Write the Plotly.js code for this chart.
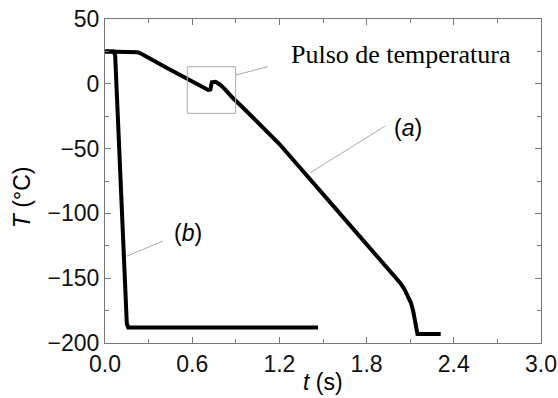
<!DOCTYPE html>
<html>
<head>
<meta charset="utf-8">
<script src="https://cdn.plot.ly/plotly-3.0.1.min.js"></script>
<style>html,body{margin:0;padding:0;background:#fff;}#chart{width:558px;height:398px;}</style>
</head>
<body>
<div id="chart"></div>
<script>
// Curve (a): slow cooling with temperature pulse
const timeA = [0, 0.10, 0.20, 0.225, 0.25, 0.30, 0.42, 0.53, 0.63, 0.71, 0.725, 0.735, 0.76, 0.79, 0.82, 0.88, 0.95, 1.20, 1.53, 1.824, 1.90, 1.96, 2.00, 2.03, 2.06, 2.085, 2.105, 2.12, 2.13, 2.14, 2.15, 2.31];
const tempA = [25, 25, 24.8, 24.3, 23.2, 20.3, 12.5, 6, 0.3, -4.8, -4.5, 1.2, 1.5, -0.5, -3.5, -11, -18.5, -46.5, -89, -126.7, -136, -143.5, -149, -153.5, -158.5, -163.5, -169, -175, -181, -188, -193, -193];
// Curve (b): fast quench
const timeB = [0, 0.06, 0.07, 0.113, 0.15, 0.16, 0.20, 0.60, 1.00, 1.466];
const tempB = [25, 25, 22, -90, -185, -188, -188, -188, -188, -188];
// Axis ticks
const xTicks = [0, 0.6, 1.2, 1.8, 2.4, 3.0];
const xTickText = ["0.0", "0.6", "1.2", "1.8", "2.4", "3.0"];
const yTicks = [-200, -150, -100, -50, 0, 50];

const traces = [
  {x: timeA, y: tempA, mode: 'lines', line: {color: '#000', width: 4}, hoverinfo: 'skip', showlegend: false},
  {x: timeB, y: tempB, mode: 'lines', line: {color: '#000', width: 4}, hoverinfo: 'skip', showlegend: false}
];

const axisCommon = {
  showgrid: false, zeroline: false, showline: true, linecolor: '#777', linewidth: 1,
  mirror: 'ticks', ticks: 'inside', ticklen: 6, tickcolor: '#777', tickwidth: 1,
  tickfont: {family: 'Liberation Sans, Arial, sans-serif', size: 23, color: '#111'}
};

const layout = {
  width: 558, height: 398,
  margin: {l: 105, r: 17, t: 19, b: 55},
  paper_bgcolor: '#fff', plot_bgcolor: '#fff',
  xaxis: Object.assign({}, axisCommon, {
    range: [0, 3], tickmode: 'array', tickvals: xTicks, ticktext: xTickText,
    minor: {dtick: 0.3, ticks: 'inside', ticklen: 4, tickcolor: '#777', showgrid: false}
  }),
  yaxis: Object.assign({}, axisCommon, {
    range: [-200, 50], tickmode: 'array', tickvals: yTicks,
    minor: {dtick: 25, ticks: 'inside', ticklen: 4, tickcolor: '#777', showgrid: false}
  }),
  shapes: [
    {type: 'rect', xref: 'x', yref: 'y', x0: 0.566, x1: 0.899, y0: -22.8, y1: 13.2, line: {color: '#aaa', width: 1}},
    {type: 'line', xref: 'x', yref: 'y', x0: 0.90, y0: 6.8, x1: 1.122, y1: 13.2, line: {color: '#aaa', width: 1}},
    {type: 'line', xref: 'x', yref: 'y', x0: 1.411, y0: -68.8, x1: 1.927, y1: -32.6, line: {color: '#aaa', width: 1}},
    {type: 'line', xref: 'x', yref: 'y', x0: 0.151, y0: -132.9, x1: 0.399, y1: -121.3, line: {color: '#aaa', width: 1}}
  ],
  annotations: [
    {text: 'Pulso de temperatura', xref: 'x', yref: 'y', x: 1.266, y: 22.8, xanchor: 'left', yanchor: 'middle', showarrow: false,
     font: {family: 'Liberation Serif, Times New Roman, serif', size: 26, color: '#000'}},
    {text: '(<i>a</i>)', xref: 'x', yref: 'y', x: 2.086, y: -34.4, xanchor: 'center', yanchor: 'middle', showarrow: false,
     font: {family: 'Liberation Sans, Arial, sans-serif', size: 23, color: '#000'}},
    {text: '(<i>b</i>)', xref: 'x', yref: 'y', x: 0.571, y: -115, xanchor: 'center', yanchor: 'middle', showarrow: false,
     font: {family: 'Liberation Sans, Arial, sans-serif', size: 23, color: '#000'}},
    {text: '<i>t</i> (s)', xref: 'paper', yref: 'paper', x: 0.5, y: -0.12, xanchor: 'center', yanchor: 'middle', showarrow: false,
     font: {family: 'Liberation Sans, Arial, sans-serif', size: 23, color: '#000'}},
    {text: '<i>T</i> (°C)', xref: 'paper', yref: 'paper', x: -0.19, y: 0.4506, xanchor: 'center', yanchor: 'middle', showarrow: false, textangle: -90,
     font: {family: 'Liberation Sans, Arial, sans-serif', size: 23, color: '#000'}}
  ]
};

Plotly.newPlot('chart', traces, layout, {displayModeBar: false, staticPlot: true});
</script>
</body>
</html>
